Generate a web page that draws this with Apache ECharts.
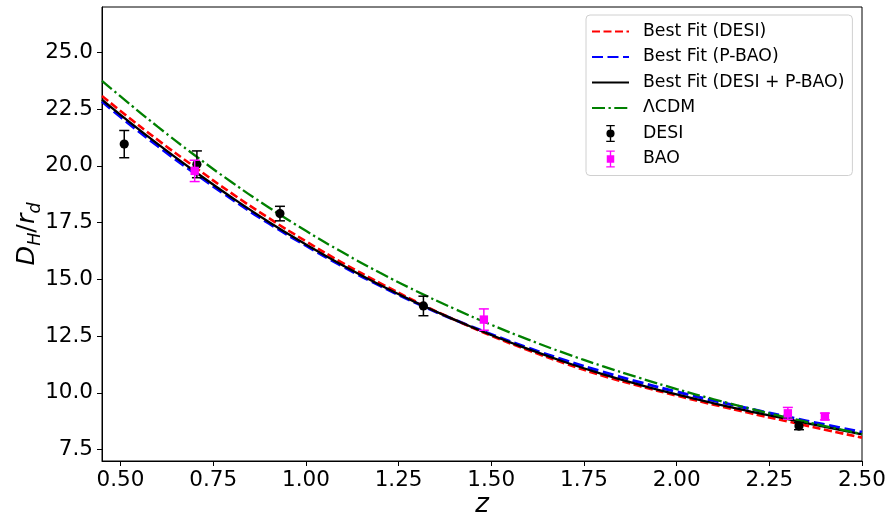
<!DOCTYPE html>
<html>
<head>
<meta charset="utf-8">
<script src="https://cdn.jsdelivr.net/npm/echarts@6/dist/echarts.min.js"></script>
<style>html,body{margin:0;padding:0;background:#fff}#c{width:888px;height:516px}</style>
</head>
<body>
<div id="c"></div>
<script>
// ---- data ----
const zGrid   = [0.45,0.5,0.6,0.7,0.8,0.9,1.0,1.1,1.2,1.3,1.4,1.5,1.6,1.7,1.8,1.9,2.0,2.1,2.2,2.3,2.4,2.5];
const fitDESI = [23.08,22.42,21.15,19.95,18.79,17.70,16.68,15.72,14.84,14.00,13.23,12.52,11.88,11.29,10.76,10.30,9.88,9.48,9.10,8.74,8.38,8.03];
const fitPBAO = [22.84,22.16,20.88,19.68,18.54,17.47,16.49,15.57,14.72,13.94,13.23,12.58,11.98,11.43,10.93,10.47,10.05,9.66,9.29,8.94,8.60,8.27];
const fitJoint= [22.92,22.25,20.97,19.76,18.61,17.53,16.54,15.61,14.75,13.96,13.23,12.55,11.93,11.35,10.83,10.36,9.93,9.54,9.18,8.84,8.50,8.17];
const lcdm    = [23.75,23.06,21.73,20.47,19.28,18.17,17.14,16.18,15.29,14.47,13.71,13.00,12.35,11.74,11.18,10.66,10.17,9.72,9.30,8.91,8.54,8.19];

const desiZ   = [0.51, 0.706, 0.93, 1.317, 2.33];
const desiDH  = [20.96, 20.07, 17.90, 13.83, 8.54];
const desiErr = [0.60, 0.59, 0.32, 0.43, 0.16];

const baoZ    = [0.70, 1.48, 2.30, 2.40];
const baoDH   = [19.78, 13.23, 9.10, 8.96];
const baoErr  = [0.47, 0.47, 0.26, 0.15];

const xTicks = [0.5,0.75,1.0,1.25,1.5,1.75,2.0,2.25,2.5];
const yTicks = [7.5,10.0,12.5,15.0,17.5,20.0,22.5,25.0];

// ---- chart ----
const FONT = 'DejaVu Sans';
const chart = echarts.init(document.getElementById('c'), null, {renderer:'canvas'});

function pairs(xs, ys){ return xs.map((x,i)=>[x, ys[i]]); }

function errSeries(name, zs, vs, es, color, barColor, shape){
  return {
    name: name, type: 'custom', z: 10,
    itemStyle: {color: color},
    encode: {x: 0, y: 1},
    data: zs.map((z,i)=>[z, vs[i], es[i]]),
    renderItem: function(params, api){
      const x = api.value(0), y = api.value(1), e = api.value(2);
      const c = api.coord([x, y]);
      const t = api.coord([x, y + e]);
      const b = api.coord([x, y - e]);
      const cw = 5;
      const ls = {stroke: barColor, lineWidth: 1.5};
      const children = [
        {type:'line', shape:{x1:c[0], y1:t[1], x2:c[0], y2:b[1]}, style: ls},
        {type:'line', shape:{x1:c[0]-cw, y1:t[1], x2:c[0]+cw, y2:t[1]}, style: ls},
        {type:'line', shape:{x1:c[0]-cw, y1:b[1], x2:c[0]+cw, y2:b[1]}, style: ls}
      ];
      if (shape === 'circle') {
        children.push({type:'circle', shape:{cx:c[0], cy:c[1], r:4.6}, style:{fill: color}});
      } else {
        children.push({type:'rect', shape:{x:c[0]-4.2, y:c[1]-4.2, width:8.4, height:8.4}, style:{fill: color}});
      }
      return {type:'group', children: children};
    }
  };
}

const iconDESI = 'path://M3,0H13V1.6H3Z M7.2,0H8.8V20H7.2Z M3,18.4H13V20H3Z M8,5.2A4.8,4.8 0 1 1 8,14.8A4.8,4.8 0 1 1 8,5.2Z';
const iconBAO  = 'path://M3,0H13V1.6H3Z M7.2,0H8.8V20H7.2Z M3,18.4H13V20H3Z M3.6,5.6H12.4V14.4H3.6Z';
const hideSym = {opacity: 0};

const option = {
  animation: false,
  backgroundColor: '#ffffff',
  textStyle: {fontFamily: FONT},
  grid: {left: 102, right: 26, top: 7, bottom: 55, show: true, borderColor: '#000', borderWidth: 1,
    backgroundColor: 'transparent', containLabel: false, outerBoundsMode: 'none'},
  xAxis: {
    type: 'value', min: 0.45, max: 2.5,
    axisLine: {show: true, lineStyle: {color: '#000', width: 1}},
    axisTick: {show: true, length: 5, customValues: xTicks, lineStyle: {color: '#000'}},
    axisLabel: {customValues: xTicks, color: '#000', fontSize: 21.5, fontFamily: FONT, margin: 8,
      formatter: v => v.toFixed(2)},
    splitLine: {show: false},
    name: 'z', nameLocation: 'middle', nameGap: 31, nameMoveOverlap: false,
    nameTextStyle: {fontSize: 26, fontStyle: 'italic', fontFamily: FONT, color: '#000'}
  },
  yAxis: {
    type: 'value', min: 7, max: 27,
    axisLine: {show: true, lineStyle: {color: '#000', width: 1}},
    axisTick: {show: true, length: 5, customValues: yTicks, lineStyle: {color: '#000'}},
    axisLabel: {customValues: yTicks, color: '#000', fontSize: 21.5, fontFamily: FONT, margin: 9,
      formatter: v => v.toFixed(1)},
    splitLine: {show: false},
    name: '{i|D}{s|H}{n|/}{i|r}{s|d}', nameLocation: 'middle', nameGap: 58, nameMoveOverlap: false,
    nameTextStyle: {
      color: '#000', fontFamily: FONT,
      rich: {
        i: {fontSize: 25.5, fontStyle: 'italic', fontFamily: FONT, color: '#000', lineHeight: 34, verticalAlign: 'middle'},
        n: {fontSize: 25.5, fontFamily: FONT, color: '#000', lineHeight: 34, verticalAlign: 'middle'},
        s: {fontSize: 17.5, fontStyle: 'italic', fontFamily: FONT, color: '#000', lineHeight: 17, verticalAlign: 'bottom'}
      }
    }
  },
  legend: {
    orient: 'vertical', left: 586, top: 15,
    padding: [8, 8, 8, 5],
    itemWidth: 37, itemHeight: 17, itemGap: 8.5,
    backgroundColor: '#fff', borderColor: '#d0d0d0', borderWidth: 1, borderRadius: 4,
    textStyle: {fontSize: 17.3, fontFamily: FONT, color: '#000', padding: [0, 0, 0, 9]},
    data: [
      {name: 'Best Fit (DESI)', itemStyle: hideSym},
      {name: 'Best Fit (P-BAO)', itemStyle: hideSym},
      {name: 'Best Fit (DESI + P-BAO)', itemStyle: hideSym},
      {name: 'ΛCDM', itemStyle: hideSym},
      {name: 'DESI', icon: iconDESI},
      {name: 'BAO', icon: iconBAO}
    ]
  },
  series: [
    {name: 'Best Fit (DESI)', type: 'line', data: pairs(zGrid, fitDESI), smooth: true, showSymbol: false, symbol: 'none',
      lineStyle: {color: '#ff0000', width: 2.6, type: [8, 3.5]}, itemStyle: {color: '#ff0000'}, z: 3},
    {name: 'Best Fit (P-BAO)', type: 'line', data: pairs(zGrid, fitPBAO), smooth: true, showSymbol: false, symbol: 'none',
      lineStyle: {color: '#0000ff', width: 3, type: [11, 4.5]}, itemStyle: {color: '#0000ff'}, z: 2},
    {name: 'Best Fit (DESI + P-BAO)', type: 'line', data: pairs(zGrid, fitJoint), smooth: true, showSymbol: false, symbol: 'none',
      lineStyle: {color: '#000000', width: 2.3}, itemStyle: {color: '#000000'}, z: 4},
    {name: 'ΛCDM', type: 'line', data: pairs(zGrid, lcdm), smooth: true, showSymbol: false, symbol: 'none',
      lineStyle: {color: '#008000', width: 2.3, type: [13, 3.5, 2.3, 3.5]}, itemStyle: {color: '#008000'}, z: 5},
    errSeries('DESI', desiZ, desiDH, desiErr, '#000000', '#000000', 'circle'),
    errSeries('BAO', baoZ, baoDH, baoErr, '#ff00ff', '#ff00ff', 'square')
  ]
};
chart.setOption(option);
</script>
</body>
</html>
